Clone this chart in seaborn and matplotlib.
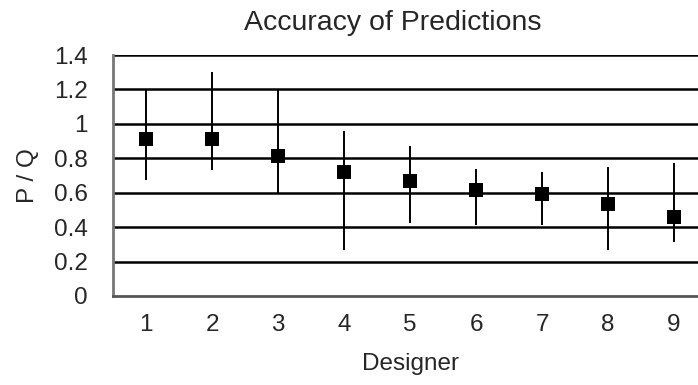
import matplotlib
matplotlib.use("Agg")
import matplotlib.pyplot as plt
import seaborn as sns
import pandas as pd

designers = [1, 2, 3, 4, 5, 6, 7, 8, 9]
pq_mean = [0.91, 0.91, 0.815, 0.72, 0.67, 0.615, 0.59, 0.535, 0.46]
pq_low = [0.675, 0.73, 0.595, 0.265, 0.425, 0.41, 0.41, 0.265, 0.315]
pq_high = [1.20, 1.30, 1.20, 0.96, 0.87, 0.74, 0.72, 0.75, 0.775]
y_ticks = [0, 0.2, 0.4, 0.6, 0.8, 1, 1.2, 1.4]
y_tick_labels = ["0", "0.2", "0.4", "0.6", "0.8", "1", "1.2", "1.4"]

df = pd.DataFrame({"Designer": designers, "PQ": pq_mean,
                   "low": pq_low, "high": pq_high})

sns.set_theme(style="white")
plt.rcParams["font.family"] = ["Liberation Sans", "DejaVu Sans"]

fig = plt.figure(figsize=(6.98, 3.85), dpi=100)
ax = fig.add_axes([113 / 698, 1 - 296 / 385, 594 / 698, 241 / 385])

# horizontal gridlines
for y in y_ticks[1:]:
    ax.axhline(y, color="black", lw=1.8, zorder=1)

ax.vlines(df["Designer"], df["low"], df["high"], color="black", lw=1.4, zorder=2)
sns.scatterplot(data=df, x="Designer", y="PQ", marker="s", s=115,
                color="black", edgecolor="black", linewidth=0, ax=ax, zorder=3)

ax.set_xlim(0.5, 9.5)
ax.set_ylim(0, 1.4)
ax.set_xticks(designers)
ax.set_xticklabels([str(d) for d in designers])
ax.set_yticks(y_ticks)
ax.set_yticklabels(y_tick_labels)
ax.tick_params(axis="y", length=8, width=1.5, color="black", pad=10, labelsize=17.5)
ax.tick_params(axis="x", length=0, pad=13, labelsize=17.5)

for side in ["top", "right"]:
    ax.spines[side].set_visible(False)
ax.spines["left"].set_color("#777777")
ax.spines["left"].set_linewidth(2)
ax.spines["bottom"].set_color("#555555")
ax.spines["bottom"].set_linewidth(2)

ax.set_xlabel("Designer", fontsize=17.5, labelpad=12)
ax.set_ylabel("P / Q", fontsize=17.5, labelpad=11)
fig.text(393 / 698, 1 - 23 / 385, "Accuracy of Predictions", fontsize=20.5,
         ha="center", va="center")

fig.savefig("out.png", dpi=100)
